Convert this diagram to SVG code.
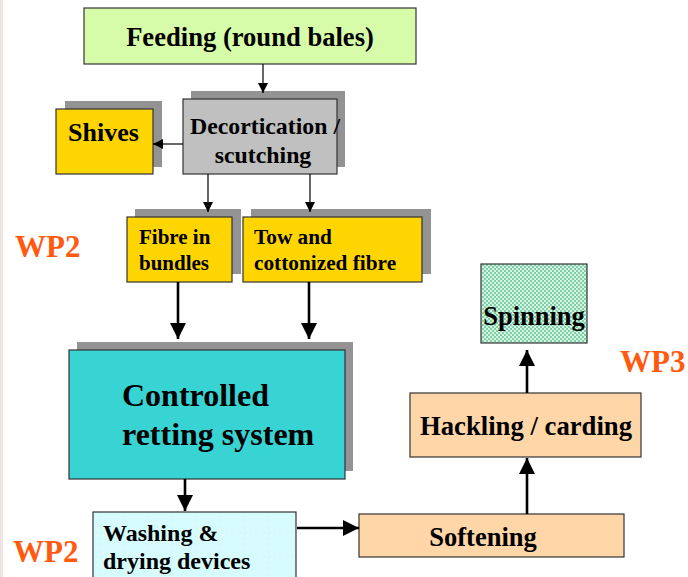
<svg xmlns="http://www.w3.org/2000/svg" width="688" height="577" viewBox="0 0 688 577">
  <defs>
    <style>
      .box { stroke: #333; stroke-width: 1.2; }
      .shadow { fill: #939393; }
      .t { font-family: "Liberation Serif", "Times New Roman", serif; font-weight: bold; fill: #000; }
      .wp { font-family: "Liberation Serif", "Times New Roman", serif; font-weight: bold; fill: #ff5a0f; font-size: 31px; }
      .thin { stroke: #000; stroke-width: 1.2; fill: none; }
      .thick { stroke: #000; stroke-width: 2.6; fill: none; }
    </style>
    <marker id="ah-s" viewBox="0 0 10 10" refX="10" refY="5" markerWidth="10" markerHeight="10" markerUnits="userSpaceOnUse" orient="auto">
      <path d="M0,0 L10,5 L0,10 z" fill="#000"/>
    </marker>
    <marker id="ah-l" viewBox="0 0 10 10" refX="10" refY="5" markerWidth="16" markerHeight="16" markerUnits="userSpaceOnUse" orient="auto">
      <path d="M0,0 L10,5 L0,10 z" fill="#000"/>
    </marker>
    <pattern id="chk" width="4" height="4" patternUnits="userSpaceOnUse">
      <rect width="4" height="4" fill="#7dcfa6"/>
      <rect width="2" height="2" fill="#d8f2e4"/>
      <rect x="2" y="2" width="2" height="2" fill="#d8f2e4"/>
    </pattern>
    <pattern id="dots" width="6" height="6" patternUnits="userSpaceOnUse">
      <rect width="6" height="6" fill="#d6fbfc"/>
      <rect x="1" y="1" width="1" height="1" fill="#eefefe"/>
    </pattern>
  </defs>

  <rect width="688" height="577" fill="#fff"/>
  <!-- textured left margin -->
  <rect x="0" y="0" width="3" height="577" fill="#efe4e1"/>

  <!-- work package labels -->
  <text class="wp" x="15" y="257">WP2</text>
  <text class="wp" x="13" y="562">WP2</text>
  <text class="wp" x="620" y="372">WP3</text>

  <g id="feeding">
    <rect class="box" x="84" y="8" width="332" height="56" fill="#d6fca9"/>
    <text class="t" x="250" y="46" font-size="26.6" text-anchor="middle">Feeding (round bales)</text>
  </g>

  <g id="decortication">
    <rect class="shadow" x="191" y="91" width="154" height="76"/>
    <rect class="box" x="183" y="99" width="154" height="75" fill="#c0c0c0"/>
    <text class="t" x="265" y="134" font-size="23.8" text-anchor="middle">Decortication /</text>
    <text class="t" x="263" y="163" font-size="23.8" text-anchor="middle">scutching</text>
  </g>

  <g id="shives">
    <rect class="shadow" x="65" y="101" width="97" height="66"/>
    <rect class="box" x="56" y="109" width="97" height="65" fill="#ffd500"/>
    <text class="t" x="68" y="141" font-size="26">Shives</text>
  </g>

  <g id="fibre-bundles">
    <rect class="shadow" x="135" y="209" width="106" height="65"/>
    <rect class="box" x="127" y="217" width="105" height="65" fill="#ffd500"/>
    <text class="t" x="139" y="244" font-size="21">Fibre in</text>
    <text class="t" x="139" y="270" font-size="21">bundles</text>
  </g>

  <g id="tow">
    <rect class="shadow" x="251" y="209" width="180" height="65"/>
    <rect class="box" x="243" y="217" width="179" height="65" fill="#ffd500"/>
    <text class="t" x="254" y="244" font-size="21.3">Tow and</text>
    <text class="t" x="254" y="270" font-size="21.3">cottonized fibre</text>
  </g>

  <g id="retting">
    <rect class="shadow" x="77" y="342" width="276" height="129"/>
    <rect class="box" x="69" y="350" width="276" height="129" fill="#38d4d4"/>
    <text class="t" x="122" y="406" font-size="32">Controlled</text>
    <text class="t" x="122" y="445" font-size="32">retting system</text>
  </g>

  <g id="washing">
    <rect class="box" x="93" y="512" width="203" height="70" fill="url(#dots)"/>
    <text class="t" x="103" y="541" font-size="24">Washing &amp;</text>
    <text class="t" x="103" y="569" font-size="24">drying devices</text>
  </g>

  <g id="softening">
    <rect class="box" x="359" y="514" width="265" height="43" fill="#ffd6a8"/>
    <text class="t" x="483" y="546" font-size="26.5" text-anchor="middle">Softening</text>
  </g>

  <g id="hackling">
    <rect class="box" x="410" y="393" width="231" height="64" fill="#ffd6a8"/>
    <text class="t" x="526" y="435" font-size="26.7" text-anchor="middle">Hackling / carding</text>
  </g>

  <g id="spinning">
    <rect class="box" x="481" y="264" width="106" height="79" fill="url(#chk)"/>
    <text class="t" x="534" y="325" font-size="26.5" text-anchor="middle">Spinning</text>
  </g>

  <!-- connectors -->
  <g id="connectors">
    <line class="thin" x1="263" y1="64" x2="263" y2="93" marker-end="url(#ah-s)"/>
    <line class="thin" x1="183" y1="144" x2="153" y2="144" marker-end="url(#ah-s)"/>
    <line class="thin" x1="208" y1="174" x2="208" y2="212" marker-end="url(#ah-s)"/>
    <line class="thin" x1="310" y1="174" x2="310" y2="212" marker-end="url(#ah-s)"/>
    <line class="thick" x1="178" y1="282" x2="178" y2="339" marker-end="url(#ah-l)"/>
    <line class="thick" x1="309" y1="282" x2="309" y2="339" marker-end="url(#ah-l)"/>
    <line class="thick" x1="185" y1="479" x2="185" y2="511" marker-end="url(#ah-l)"/>
    <line class="thick" x1="297" y1="528" x2="359" y2="528" marker-end="url(#ah-l)"/>
    <line class="thick" x1="527" y1="514" x2="527" y2="458" marker-end="url(#ah-l)"/>
    <line class="thick" x1="527" y1="393" x2="527" y2="350" marker-end="url(#ah-l)"/>
  </g>
</svg>
